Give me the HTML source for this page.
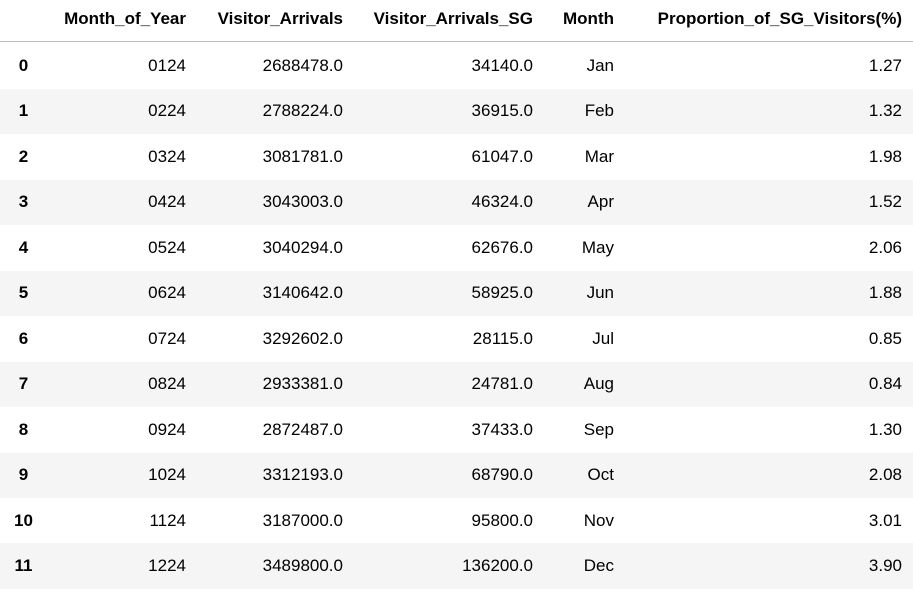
<!DOCTYPE html>
<html><head><meta charset="utf-8"><style>
body{margin:0;width:913px;height:589px;background:#fff;font-family:"Liberation Sans",sans-serif;color:#000;overflow:hidden;position:relative}
.c{position:absolute;font-size:17px;line-height:20px;white-space:nowrap}
.r{text-align:right}
.h{font-weight:bold}
.row{position:absolute;left:0;width:913px;height:45.5px}
.alt{background:#f5f5f5}
.line{position:absolute;left:0;top:41px;width:913px;height:1px;background:#bdbdbd}
</style></head><body>
<div id="tbl"></div>
<script>
const idx=[0,1,2,3,4,5,6,7,8,9,10,11];
const moy=["0124","0224","0324","0424","0524","0624","0724","0824","0924","1024","1124","1224"];
const va=["2688478.0","2788224.0","3081781.0","3043003.0","3040294.0","3140642.0","3292602.0","2933381.0","2872487.0","3312193.0","3187000.0","3489800.0"];
const vasg=["34140.0","36915.0","61047.0","46324.0","62676.0","58925.0","28115.0","24781.0","37433.0","68790.0","95800.0","136200.0"];
const months=["Jan","Feb","Mar","Apr","May","Jun","Jul","Aug","Sep","Oct","Nov","Dec"];
const prop=["1.27","1.32","1.98","1.52","2.06","1.88","0.85","0.84","1.30","2.08","3.01","3.90"];
const headers=["Month_of_Year","Visitor_Arrivals","Visitor_Arrivals_SG","Month","Proportion_of_SG_Visitors(%)"];
const rights=[186,343,533,614,902];
const t=document.getElementById('tbl');
function cell(txt,right,y,cls,name){
  const d=document.createElement('div');
  d.className='c r '+cls;
  d.style.right=(913-right)+'px';d.style.top=y+'px';
  d.textContent=txt;
  
  
  t.appendChild(d);
}
headers.forEach((h,i)=>cell(h,rights[i],9,'h','column-header'));
const ln=document.createElement('div');ln.className='line';


t.appendChild(ln);
const top0=43.5,rh=45.45;
idx.forEach((k,i)=>{
  const y=top0+i*rh;
  const r=document.createElement('div');r.className='row'+(i%2?' alt':'');
  r.style.top=y+'px';
  
  
  t.appendChild(r);
  const yc=y+12.5;
  const ix=document.createElement('div');ix.className='c h';
  ix.style.left='0px';ix.style.width='47px';ix.style.textAlign='center';ix.style.top=yc+'px';
  ix.textContent=k;
  
  
  t.appendChild(ix);
  cell(moy[i],rights[0],yc,'','month-of-year-cell');
  cell(va[i],rights[1],yc,'','visitor-arrivals-cell');
  cell(vasg[i],rights[2],yc,'','visitor-arrivals-sg-cell');
  cell(months[i],rights[3],yc,'','month-cell');
  cell(prop[i],rights[4],yc,'','proportion-cell');
});
</script>
</body></html>
